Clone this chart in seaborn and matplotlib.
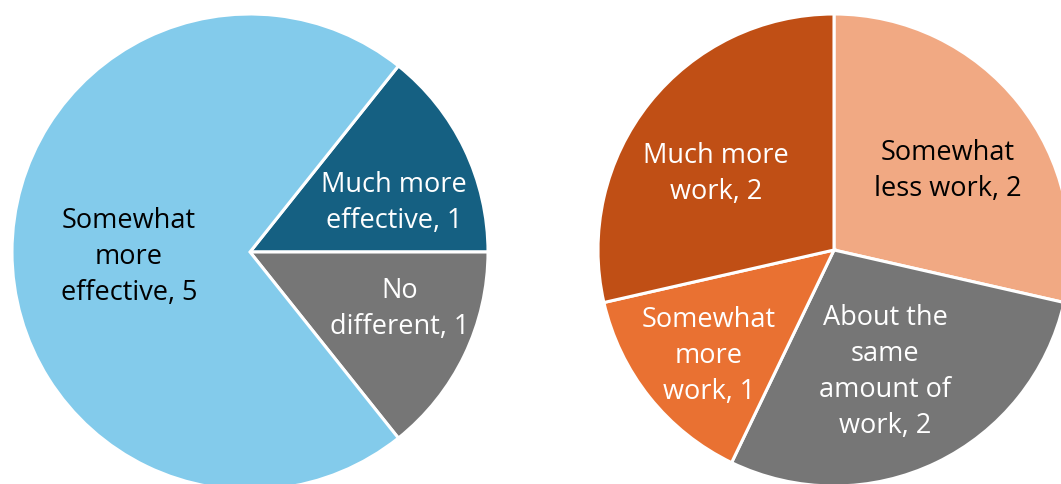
import matplotlib
matplotlib.use("Agg")
import matplotlib.pyplot as plt
import seaborn as sns
import numpy as np

sns.set_theme(style="white")
plt.rcParams['font.family'] = ['Open Sans', 'DejaVu Sans']

# ---- data ----
eff_labels = ["Much more\neffective, 1", "No\ndifferent, 1", "Somewhat\nmore\neffective, 5"]
eff_values = [1, 1, 5]
eff_colors = ["#156082", "#767676", "#83CBEB"]
eff_text_colors = ["white", "white", "black"]

work_labels = ["Somewhat\nless work, 2", "About the\nsame\namount of\nwork, 2",
               "Somewhat\nmore\nwork, 1", "Much more\nwork, 2"]
work_values = [2, 2, 1, 2]
work_colors = ["#F1A983", "#767676", "#E97132", "#C04F15"]
work_text_colors = ["black", "white", "white", "white"]

# ---- layout (label anchor positions in pie radius units) ----
eff_label_xy = [(0.605, 0.204), (0.63, -0.24), (-0.508, -0.022)]
work_label_xy = [(0.483, 0.333), (0.216, -0.518), (-0.53, -0.45), (-0.50, 0.32)]

W, H = 1061, 484
fig = plt.figure(figsize=(W / 100, H / 100), dpi=100)
fig.patch.set_facecolor("white")


def make_axes(cx, cy, r):
    # cx, cy in pixels from top-left; r in pixels
    return fig.add_axes([(cx - r) / W, (H - cy - r) / H, 2 * r / W, 2 * r / H])


def draw(ax, values, colors, labels, tcolors, label_xy, startangle):
    ax.pie(values, colors=colors, startangle=startangle, counterclock=False,
           radius=1.0, wedgeprops=dict(edgecolor="white", linewidth=2.2))
    for lab, tc, (x, y) in zip(labels, tcolors, label_xy):
        ax.text(x, y, lab, ha="center", va="center", color=tc,
                fontsize=19.5, linespacing=1.38, multialignment="center")
    ax.set_xlim(-1.0, 1.0)
    ax.set_ylim(-1.0, 1.0)
    ax.set_aspect("equal")
    ax.set_axis_off()


ax1 = make_axes(250, 252, 238)
draw(ax1, eff_values, eff_colors, eff_labels, eff_text_colors, eff_label_xy,
     startangle=360 / 7)

ax2 = make_axes(834, 250, 236)
draw(ax2, work_values, work_colors, work_labels, work_text_colors, work_label_xy,
     startangle=90)

fig.savefig("out.png", dpi=100, facecolor="white")
